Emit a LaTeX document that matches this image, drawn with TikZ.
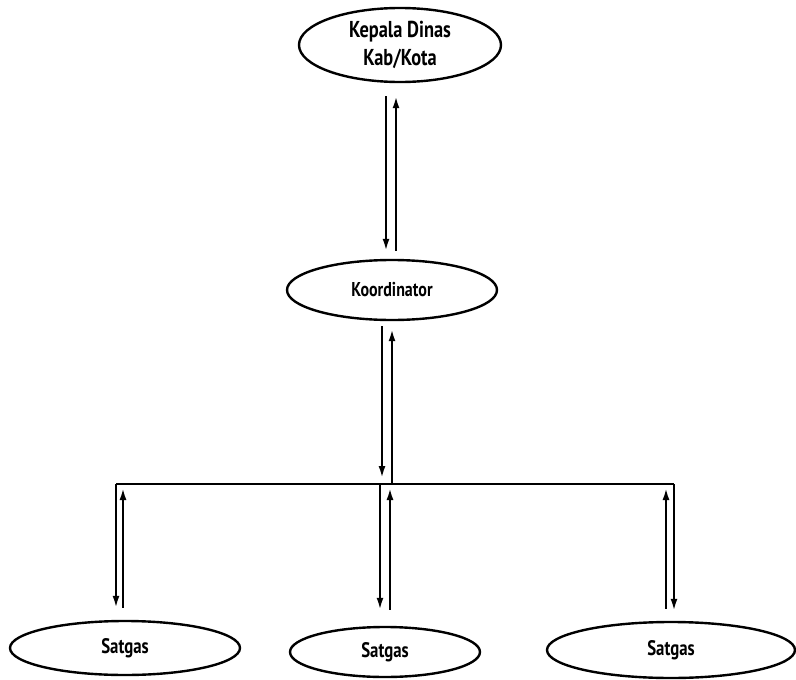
\documentclass[tikz,border=0pt]{standalone}
\usepackage{fontspec}
\setmainfont{PT Sans}[FakeStretch=0.8]
\usetikzlibrary{shapes.geometric,arrows.meta}

\begin{document}
\begin{tikzpicture}[x=1pt, y=-1pt]
  % Configurations
  \tikzset{
    unit/.style={ellipse, draw, line width=2.4pt, inner sep=0pt, align=center},
    flow/.style={line width=2.2pt, -{Latex[length=12pt,width=7pt]}},
    bar/.style={line width=2.6pt}
  }

  % Bounding box
  \useasboundingbox (0,0) rectangle (796,680);

  % Units
  \node [unit, minimum width=202, minimum height=74, font=\bfseries\fontsize{23}{28}\selectfont]
    (kepala) at (400,45) {Kepala Dinas\\Kab/Kota};
  \node [unit, minimum width=210, minimum height=60, font=\bfseries\fontsize{20}{22}\selectfont]
    (koor) at (392,290) {Koordinator};
  \node [unit, minimum width=230, minimum height=54, font=\bfseries\fontsize{21}{22}\selectfont]
    (sat1) at (125,648) {Satgas};
  \node [unit, minimum width=190, minimum height=50, font=\bfseries\fontsize{21}{22}\selectfont]
    (sat2) at (385,652) {Satgas};
  \node [unit, minimum width=248, minimum height=56, font=\bfseries\fontsize{21}{22}\selectfont]
    (sat3) at (671,650) {Satgas};

  % Kepala <-> Koordinator
  \draw [flow, shorten <=13, shorten >=8] ([xshift=-14]kepala.south) -- ([xshift=-6]koor.north);
  \draw [flow, shorten <=8, shorten >=13] ([xshift=4]koor.north) -- ([xshift=-4]kepala.south);

  % Bar
  \coordinate (barL) at (116,484);
  \coordinate (barR) at (674,484);
  \coordinate (hubdn) at (382,484);
  \coordinate (hubup) at (392,484);
  \draw [bar] (barL) -- (barR);

  % Koordinator <-> bar
  \draw [flow, shorten <=5, shorten >=6] ([xshift=-10]koor.south) -- (hubdn);
  \draw [flow, shorten >=8] (hubup) -- (koor.south);

  % Bar <-> Satgas
  \coordinate (l1) at (123,484);
  \coordinate (m1) at (380,484);
  \coordinate (m2) at (390,484);
  \coordinate (r1) at (666,484);
  \draw [flow, shorten >=12] (barL) -- (barL |- sat1.north);
  \draw [flow, shorten <=12, shorten >=4] (l1 |- sat1.north) -- (l1);
  \draw [flow, shorten >=16] (m1) -- (m1 |- sat2.north);
  \draw [flow, shorten <=16, shorten >=4] (m2 |- sat2.north) -- (m2);
  \draw [flow, shorten <=12, shorten >=4] (r1 |- sat3.north) -- (r1);
  \draw [flow, shorten >=10] (barR) -- (barR |- sat3.north);
\end{tikzpicture}
\end{document}
